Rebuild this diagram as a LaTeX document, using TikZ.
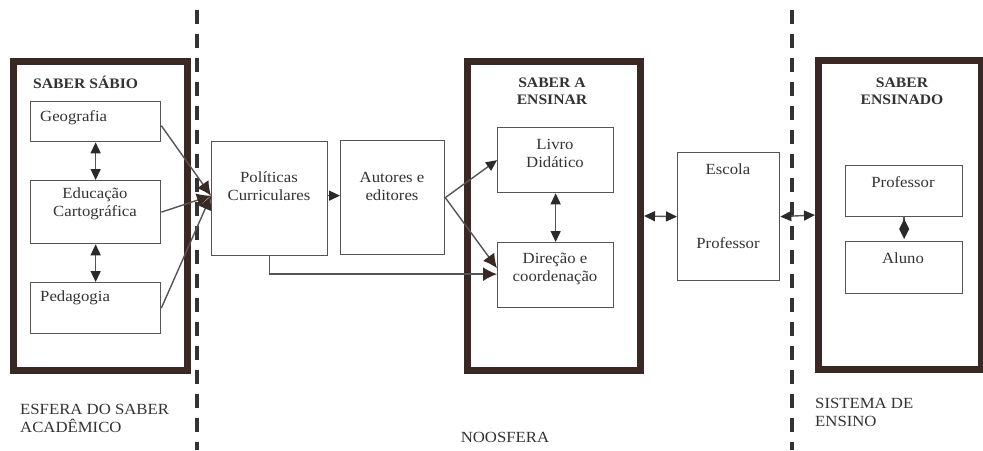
\documentclass[tikz,border=0pt]{standalone}
\usepackage{fontspec}
\setmainfont{Liberation Serif}[FakeStretch=1.08]
\usetikzlibrary{arrows.meta,calc}
\definecolor{frame}{HTML}{3A2824}
\definecolor{ink}{HTML}{333333}
\definecolor{boxline}{HTML}{555555}
\definecolor{tipc}{HTML}{2A2A2A}
\begin{document}
\begin{tikzpicture}[x=1pt,y=-1pt,
  bigbox/.style={draw=frame,line width=7pt,inner sep=0pt},
  smallbox/.style={draw=boxline,line width=1.3pt,inner sep=0pt},
  lbl/.style={text=ink,font=\fontsize{15.5}{18}\selectfont,inner sep=0pt,align=center},
  ttl/.style={text=ink,font=\fontsize{14.5}{18}\selectfont\bfseries,inner sep=0pt,align=center},
  conn/.style={draw=boxline,line width=1.4pt},
  tipA/.style={-{Triangle[length=11pt,width=10pt,color=tipc]}},
  tipAA/.style={{Triangle[length=11pt,width=10pt,color=tipc]}-{Triangle[length=11pt,width=10pt,color=tipc]}},
  tipB/.style={-{Latex[length=14pt,width=14pt,color=frame]}},
  divider/.style={draw=ink,line width=4pt,dash pattern=on 14pt off 10pt}
]
\useasboundingbox (0,0) rectangle (983,450);
\fill[white] (0,0) rectangle (983,450);

% dividers
\draw[divider] (197,10) -- (197,450);
\draw[divider] (792,10) -- (792,450);

% big frames
\node[bigbox,minimum width=174pt,minimum height=309pt] (lb) at (100.5,216) {};
\node[bigbox,minimum width=173pt,minimum height=309pt] (mb) at (554,216) {};
\node[bigbox,minimum width=163pt,minimum height=309pt] (rb) at (900,215) {};

% titles
\node[ttl,anchor=west] (t1) at (33,82) {SABER SÁBIO};
\node[ttl] (t2) at (552,91) {SABER A\\[-1pt]ENSINAR};
\node[ttl] (t3) at (902,91) {SABER\\[-1pt]ENSINADO};

% left boxes
\node[smallbox,anchor=north west,minimum width=130pt,minimum height=40pt] (geo) at (30,101) {};
\node[lbl,anchor=west] at (40,118) {Geografia};
\node[smallbox,anchor=north west,minimum width=130pt,minimum height=63pt] (edu) at (30,180) {};
\node[lbl] at (95,204) {Educação\\Cartográfica};
\node[smallbox,anchor=north west,minimum width=130pt,minimum height=51pt] (ped) at (30,282) {};
\node[lbl,anchor=west] at (40,298) {Pedagogia};

% noosfera boxes
\node[smallbox,anchor=north west,minimum width=116pt,minimum height=114pt] (pol) at (211,141) {};
\node[lbl] at (269,186) {Políticas\\Curriculares};
\node[smallbox,anchor=north west,minimum width=104pt,minimum height=114pt] (aut) at (340,140) {};
\node[lbl] at (392,186) {Autores e\\editores};

% saber a ensinar boxes
\node[smallbox,anchor=north west,minimum width=116pt,minimum height=65pt] (liv) at (497,127) {};
\node[lbl] at (555,153) {Livro\\Didático};
\node[smallbox,anchor=north west,minimum width=116pt,minimum height=65pt] (dir) at (497,242) {};
\node[lbl] at (555,269) {Direção e\\coordenação};

% escola
\node[smallbox,anchor=north west,minimum width=102pt,minimum height=128pt] (esc) at (677,152) {};
\node[lbl] at (728,169) {Escola};
\node[lbl] at (728,243) {Professor};

% saber ensinado boxes
\node[smallbox,anchor=north west,minimum width=117pt,minimum height=51pt] (prof) at (845,165) {};
\node[lbl] at (903,182) {Professor};
\node[smallbox,anchor=north west,minimum width=117pt,minimum height=52pt] (alu) at (845,241) {};
\node[lbl] at (903,258) {Aluno};

% connectors
\draw[conn,tipAA] (geo.south) -- (edu.north);
\draw[conn,tipAA] (edu.south) -- (ped.north);
\draw[conn,tipB] ($(geo.east)+(0,4)$) -- ($(pol.west)+(0,-3)$);
\draw[conn,tipB] (edu.east) -- ($(pol.west)+(0,-3)$);
\draw[conn,tipB] (ped.east) -- ($(pol.west)+(0,-3)$);
\draw[conn,tipA] ($(pol.east)+(0,-3)$) -- ($(aut.west)+(0,-2)$);
\draw[conn,tipA] (aut.east) -- (liv.west);
\draw[conn,tipB] (aut.east) -- ($(dir.west)+(0,-7)$);
\draw[conn,tipB] (pol.south) |- ($(dir.west)+(0,-1)$);
\draw[conn,tipAA] (liv.south) -- (dir.north);
\draw[conn,tipAA] (mb.east) -- (esc.west);
\draw[conn,tipAA] (esc.east) -- (rb.west);
\draw[conn,-{Diamond[length=20pt,width=10pt,color=tipc]},shorten >=2pt] (prof.south) -- (alu.north);

% sphere labels
\node[lbl,anchor=north west,align=left] (s1) at (20,404) {ESFERA DO SABER\\ACADÊMICO};
\node[lbl] (s2) at (505,437) {NOOSFERA};
\node[lbl,anchor=north west,align=left] (s3) at (815,398) {SISTEMA DE\\ENSINO};
\end{tikzpicture}
\end{document}
